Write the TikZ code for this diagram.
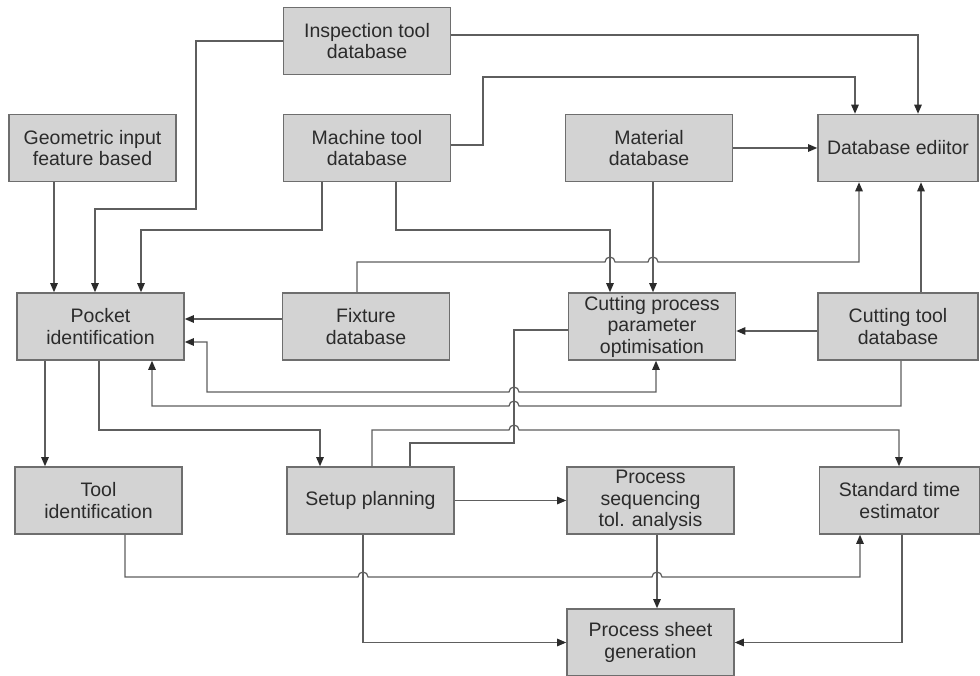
\documentclass[tikz,border=0pt]{standalone}
\usepackage{fontspec}
\setmainfont{Liberation Sans}
\usetikzlibrary{arrows.meta}
\definecolor{boxfill}{HTML}{D3D3D3}
\definecolor{boxline}{HTML}{6E6E6E}
\definecolor{wirecol}{HTML}{5E5E5E}
\definecolor{ink}{HTML}{2B2B2B}
\begin{document}
\begin{tikzpicture}[x=1pt,y=-1pt,
  block/.style={draw=boxline, fill=boxfill, line width=1.6pt,
    minimum width=167pt, minimum height=67pt, inner sep=1pt,
    align=center, text=ink, font=\fontsize{19.5}{21.5}\selectfont},
  sideblock/.style={block, minimum width=160pt},
  wire/.style={draw=wirecol, line width=1.2pt},
  tip/.tip={Triangle[length=9pt,width=7.5pt,color=ink]},
  flow/.style={wire, -tip},
  twoway/.style={wire, tip-tip},
  hop/.style={}]
\useasboundingbox (0,0) rectangle (980,676);

% blocks
\node[block] (insp)    at (367,41)    {Inspection tool\\database};
\node[block] (geo)     at (92.5,148)  {Geometric input\\feature based};
\node[block] (mach)    at (367,148)   {Machine tool\\database};
\node[block] (mat)     at (649,148)   {Material\\database};
\node[sideblock] (dbe) at (898,148)   {Database ediitor};
\node[block] (pocket)  at (100.5,326.5) {Pocket\\identification};
\node[block] (fix)     at (366,326.5) {Fixture\\database};
\node[block] (cut)     at (652,326.5) {Cutting process\\parameter\\optimisation};
\node[sideblock] (ctool) at (898,326.5) {Cutting tool\\database};
\node[block] (toolid)  at (98.5,500.5) {Tool\\identification};
\node[block] (setup)   at (370.5,500.5) {Setup planning};
\node[block] (procseq) at (650.5,500.5) {Process\\sequencing\\tol. analysis};
\node[sideblock] (std) at (899.5,500.5) {Standard time\\estimator};
\node[block] (sheet)   at (650.5,642.5) {Process sheet\\generation};

% inputs to the database editor
\draw[flow] (insp.east |- 0,35) -| (918,0 |- dbe.north);
\draw[flow] (mach.east |- 0,145) -| (483,77) -| (855,0 |- dbe.north);
\draw[flow] (mat.east) -- (dbe.west);
\draw[flow] (357,0 |- fix.north) -- (357,262) -- (605,262)
  arc[start angle=180,end angle=0,radius=5pt] -- (648,262)
  arc[start angle=180,end angle=0,radius=5pt] -- (859,262) -- (859,0 |- dbe.south);
\draw[flow] (921,0 |- ctool.north) -- (921,0 |- dbe.south);

% inputs to pocket identification
\draw[flow] (54,0 |- geo.south) -- (54,0 |- pocket.north);
\draw[flow] (insp.west) -- (196,0 |- insp.west) -- (196,209) -- (95,209) -- (95,0 |- pocket.north);
\draw[flow] (322,0 |- mach.south) |- (141,230) -- (141,0 |- pocket.north);
\draw[flow] (fix.west |- 0,319) -- (pocket.east |- 0,319);
\draw[twoway] (656,0 |- cut.south) -- (656,392) -- (519,392)
  arc[start angle=0,end angle=180,radius=5pt] -- (207,392) -- (207,342) -- (pocket.east |- 0,342);
\draw[flow] (901,0 |- ctool.south) -- (901,406) -- (519,406)
  arc[start angle=0,end angle=180,radius=5pt] -- (152,406) -- (152,0 |- pocket.south);

% inputs to parameter optimisation
\draw[flow] (396,0 |- mach.south) |- (610,230) -- (610,0 |- cut.north);
\draw[flow] (653,0 |- mat.south) -- (653,0 |- cut.north);
\draw[flow] (ctool.west |- 0,331) -- (cut.east |- 0,331);

% planning stage
\draw[wire] (cut.west |- 0,330) -- (514,330) -- (514,443) -- (410,443) -- (410,0 |- setup.north);
\draw[flow] (372,0 |- setup.north) -- (372,430) -- (509,430)
  arc[start angle=180,end angle=0,radius=5pt] -- (899,430) -- (899,0 |- std.north);
\draw[flow] (99,0 |- pocket.south) |- (320,430) -- (320,0 |- setup.north);
\draw[flow] (45,0 |- pocket.south) -- (45,0 |- toolid.north);
\draw[flow] (setup.east) -- (procseq.west);

% towards the process sheet
\draw[flow] (125,0 |- toolid.south) -- (125,577) -- (358,577)
  arc[start angle=180,end angle=0,radius=5pt] -- (652,577)
  arc[start angle=180,end angle=0,radius=5pt] -- (860,577) -- (860,0 |- std.south);
\draw[flow] (363,0 |- setup.south) |- (sheet.west);
\draw[flow] (657,0 |- procseq.south) -- (657,0 |- sheet.north);
\draw[flow] (902,0 |- std.south) |- (sheet.east);
\end{tikzpicture}
\end{document}
